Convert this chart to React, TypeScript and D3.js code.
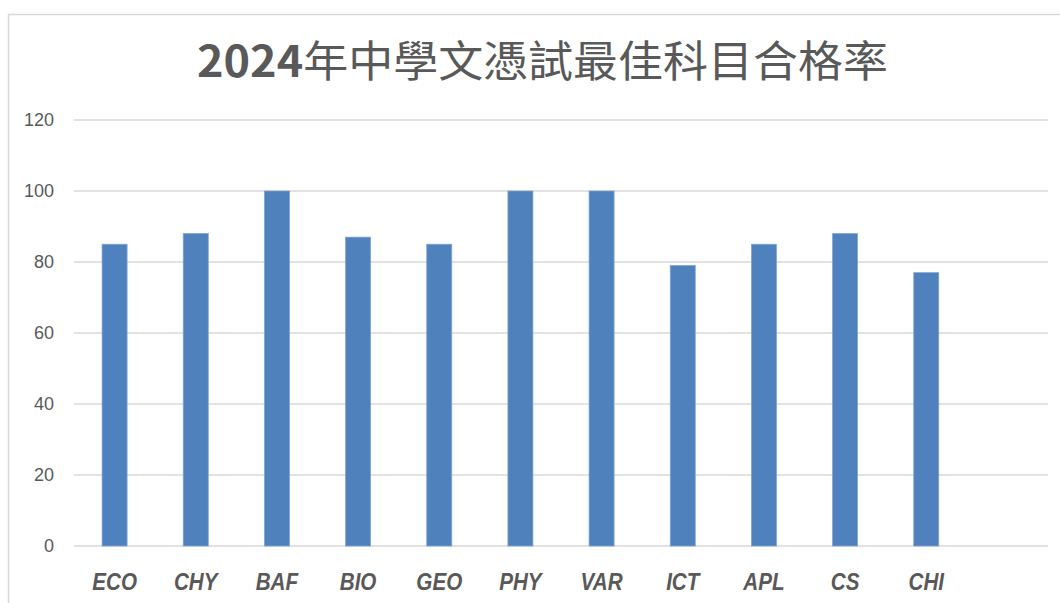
import React from "react";
import * as d3 from "d3";

const categories = ["ECO", "CHY", "BAF", "BIO", "GEO", "PHY", "VAR", "ICT", "APL", "CS", "CHI", ""];
const values: (number | null)[] = [85, 88, 100, 87, 85, 100, 100, 79, 85, 88, 77, null];
const yTicks = [0, 20, 40, 60, 80, 100, 120];
const titleYear = "2024";
const titleRest = "年中學文憑試最佳科目合格率";

const W = 1060;
const H = 603;
const plotLeft = 74;
const plotRight = 1048;
const plotTop = 120;
const plotBottom = 546;

export default function App() {
  const x = d3
    .scaleBand<string>()
    .domain(categories.map((_, i) => String(i)))
    .range([plotLeft, plotRight])
    .paddingInner(0.692)
    .paddingOuter(0.346);
  const y = d3.scaleLinear().domain([0, 120]).range([plotBottom, plotTop]);
  const gray = "#595959";
  return (
    <svg
      width={W}
      height={H}
      style={{ position: "absolute", left: 0, top: 0, background: "#fff" }}
    >
      <rect x={0} y={0} width={W} height={H} fill="#fff" />
      <rect x={8.5} y={14.5} width={W + 10} height={H + 10} fill="none" stroke="#d9d9d9" strokeWidth={1.5} />
      <text
        x={542.5}
        y={77}
        textAnchor="middle"
        fill={gray}
        fontSize={43}
        fontFamily="'Noto Sans CJK TC', 'Noto Sans', sans-serif"
        textLength={691}
        lengthAdjust="spacingAndGlyphs"
      >
        <tspan fontWeight="bold">{titleYear}</tspan>
        <tspan>{titleRest}</tspan>
      </text>
      {yTicks.map((t) => (
        <g key={t}>
          <line
            x1={plotLeft}
            x2={plotRight}
            y1={y(t)}
            y2={y(t)}
            stroke="#d9d9d9"
            strokeWidth={1.5}
          />
          <text
            x={54}
            y={y(t)}
            dy="0.35em"
            textAnchor="end"
            fill={gray}
            fontSize={18}
            fontFamily="'Liberation Sans', Arial, sans-serif"
          >
            {t}
          </text>
        </g>
      ))}
      {values.map((v, i) =>
        v == null ? null : (
          <rect
            key={i}
            x={x(String(i))!}
            y={y(v)}
            width={x.bandwidth()}
            height={y(0) - y(v)}
            fill="#4f81bd"
            stroke="#7fa3d3"
            strokeWidth={0.8}
          />
        )
      )}
      {categories.map((c, i) => {
        const cx = x(String(i))! + x.bandwidth() / 2;
        return (
          <text
            key={i}
            transform={`translate(${cx},590) scale(0.86,1)`}
            textAnchor="middle"
            fill={gray}
            fontSize={24}
            fontWeight="bold"
            fontStyle="italic"
            fontFamily="'Liberation Sans', Arial, sans-serif"
          >
            {c}
          </text>
        );
      })}
    </svg>
  );
}
